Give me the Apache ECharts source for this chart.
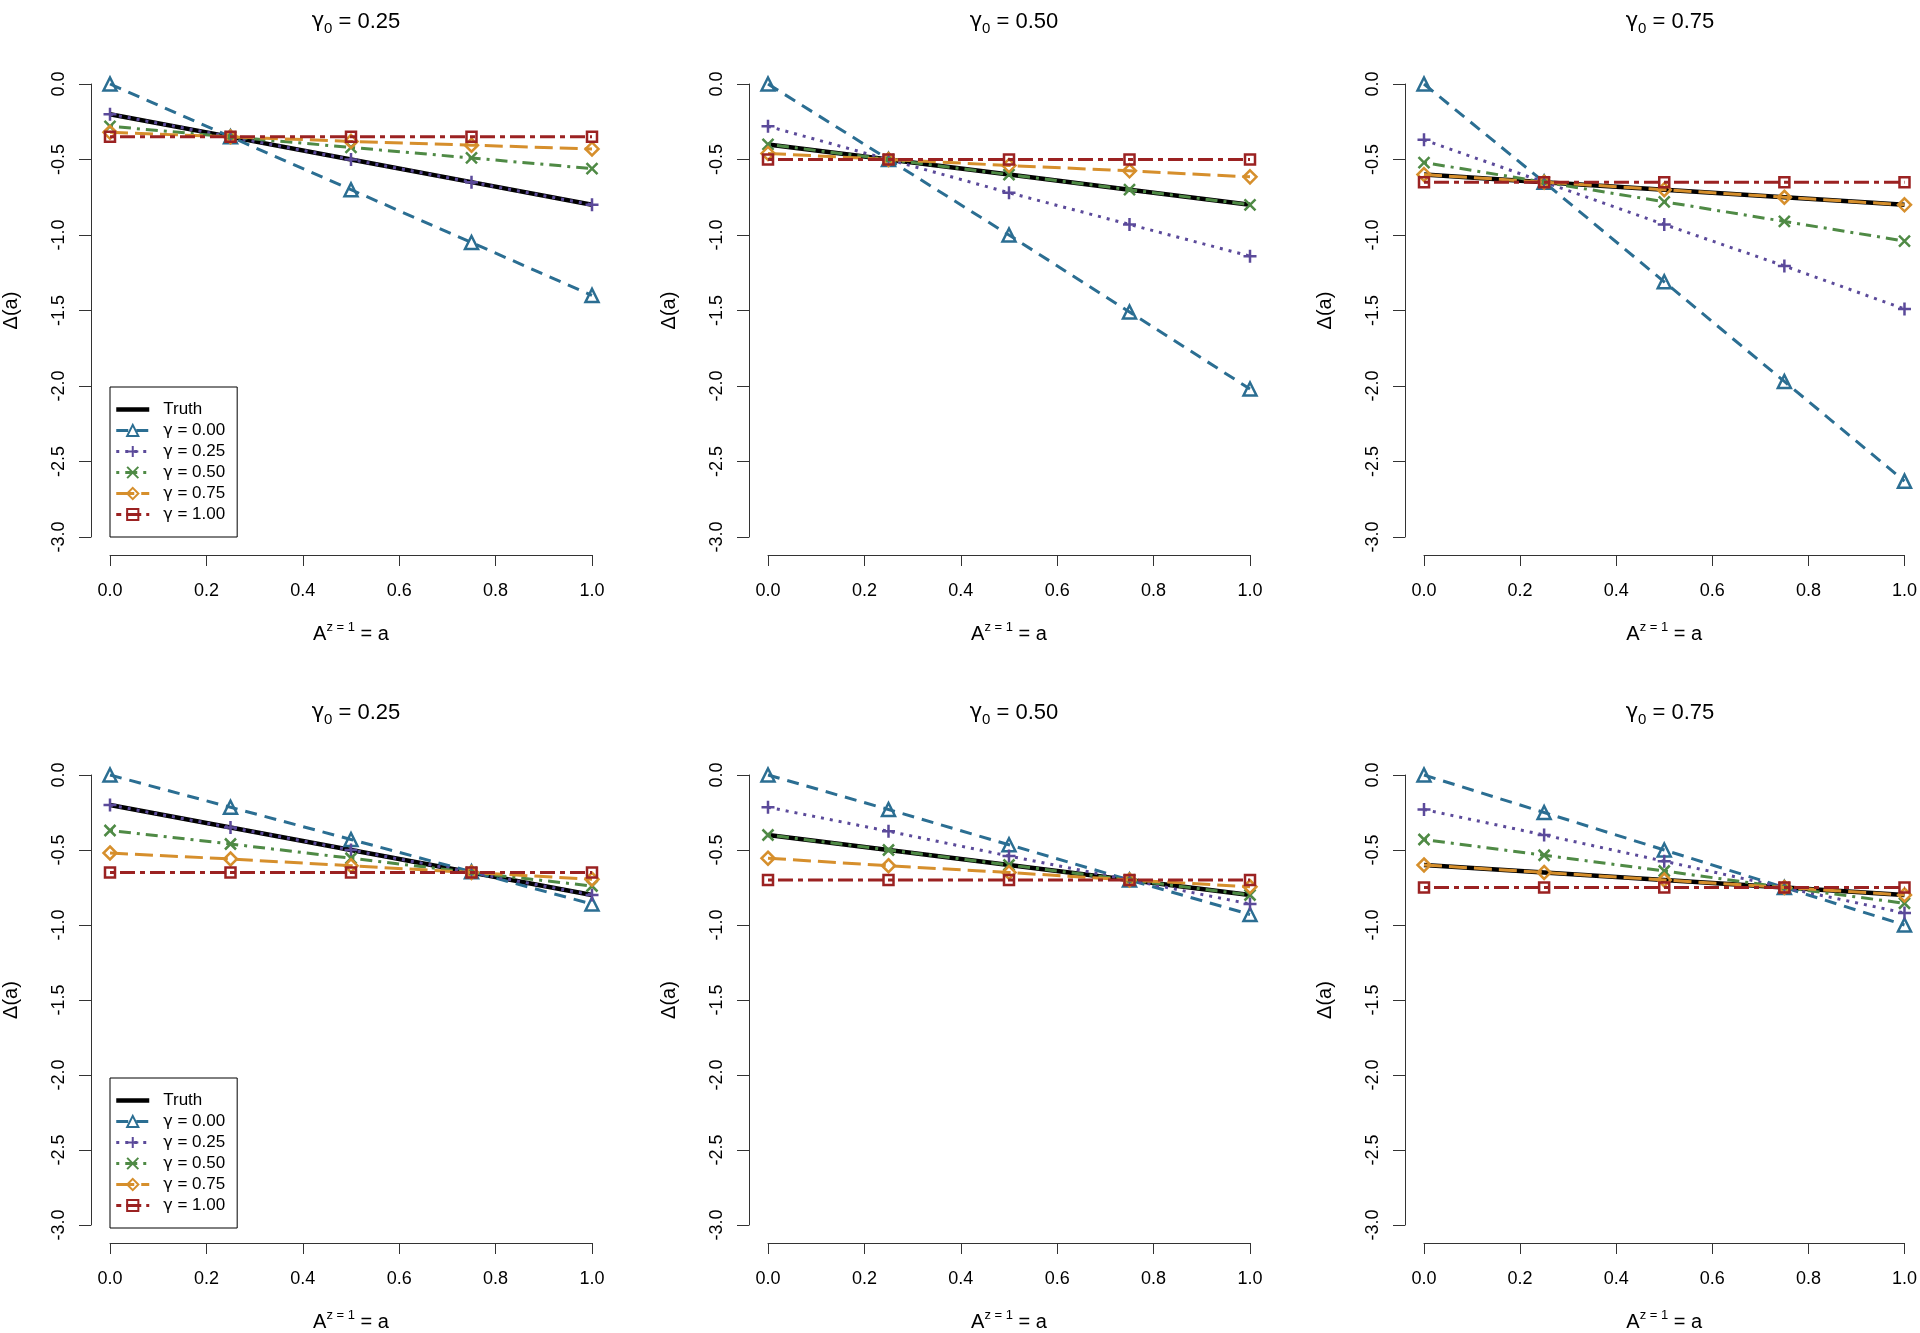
<!DOCTYPE html>
<html>
<head>
<meta charset="utf-8">
<title>Delta(a) by gamma</title>
<script src="https://cdn.jsdelivr.net/npm/echarts@6/dist/echarts.min.js"></script>
<style>
	html, body { margin: 0; padding: 0; background: #fff; }
	#chart { width: 1920px; height: 1333px; }
</style>
</head>
<body>
<div id="chart"></div>
<script>
// x positions, A^{z=1} = a
const aValues = [0, 0.25, 0.5, 0.75, 1]
const xTicks = [0, 0.2, 0.4, 0.6, 0.8, 1]
const yTicks = [0, -0.5, -1, -1.5, -2, -2.5, -3]
const seriesNames = ["Truth", "γ = 0.00", "γ = 0.25", "γ = 0.50", "γ = 0.75", "γ = 1.00"]
const panelGamma0 = ["0.25", "0.50", "0.75", "0.25", "0.50", "0.75"]

// top row, gamma0 = 0.25
const p1Truth = [-0.2, -0.35, -0.5, -0.65, -0.8]
const p1G000 = [0, -0.35, -0.7, -1.05, -1.4]
const p1G025 = [-0.2, -0.35, -0.5, -0.65, -0.8]
const p1G050 = [-0.28, -0.35, -0.42, -0.49, -0.56]
const p1G075 = [-0.32, -0.35, -0.38, -0.405, -0.43]
const p1G100 = [-0.35, -0.35, -0.35, -0.35, -0.35]
// top row, gamma0 = 0.50
const p2Truth = [-0.4, -0.5, -0.6, -0.7, -0.8]
const p2G000 = [0, -0.5, -1.0, -1.51, -2.02]
const p2G025 = [-0.28, -0.5, -0.72, -0.93, -1.14]
const p2G050 = [-0.4, -0.5, -0.6, -0.7, -0.8]
const p2G075 = [-0.46, -0.5, -0.54, -0.575, -0.615]
const p2G100 = [-0.5, -0.5, -0.5, -0.5, -0.5]
// top row, gamma0 = 0.75
const p3Truth = [-0.6, -0.65, -0.7, -0.75, -0.8]
const p3G000 = [0, -0.65, -1.31, -1.97, -2.63]
const p3G025 = [-0.37, -0.65, -0.93, -1.205, -1.49]
const p3G050 = [-0.52, -0.65, -0.78, -0.91, -1.04]
const p3G075 = [-0.6, -0.65, -0.7, -0.75, -0.8]
const p3G100 = [-0.65, -0.65, -0.65, -0.65, -0.65]
// bottom row, gamma0 = 0.25
const p4Truth = [-0.2, -0.35, -0.5, -0.65, -0.8]
const p4G000 = [0, -0.215, -0.43, -0.645, -0.86]
const p4G025 = [-0.2, -0.35, -0.5, -0.65, -0.8]
const p4G050 = [-0.37, -0.46, -0.555, -0.65, -0.74]
const p4G075 = [-0.52, -0.56, -0.605, -0.65, -0.695]
const p4G100 = [-0.65, -0.65, -0.65, -0.65, -0.65]
// bottom row, gamma0 = 0.50
const p5Truth = [-0.4, -0.5, -0.6, -0.7, -0.8]
const p5G000 = [0, -0.23, -0.465, -0.7, -0.93]
const p5G025 = [-0.215, -0.375, -0.54, -0.7, -0.86]
const p5G050 = [-0.4, -0.5, -0.6, -0.7, -0.8]
const p5G075 = [-0.555, -0.605, -0.65, -0.7, -0.745]
const p5G100 = [-0.7, -0.7, -0.7, -0.7, -0.7]
// bottom row, gamma0 = 0.75
const p6Truth = [-0.6, -0.65, -0.7, -0.75, -0.8]
const p6G000 = [0, -0.25, -0.5, -0.75, -1.0]
const p6G025 = [-0.23, -0.4, -0.575, -0.75, -0.92]
const p6G050 = [-0.43, -0.535, -0.64, -0.75, -0.855]
const p6G075 = [-0.6, -0.65, -0.7, -0.75, -0.8]
const p6G100 = [-0.75, -0.75, -0.75, -0.75, -0.75]

const panels = [
	[p1Truth, p1G000, p1G025, p1G050, p1G075, p1G100],
	[p2Truth, p2G000, p2G025, p2G050, p2G075, p2G100],
	[p3Truth, p3G000, p3G025, p3G050, p3G075, p3G100],
	[p4Truth, p4G000, p4G025, p4G050, p4G075, p4G100],
	[p5Truth, p5G000, p5G025, p5G050, p5G075, p5G100],
	[p6Truth, p6G000, p6G025, p6G050, p6G075, p6G100]
]

const FONT = "Liberation Sans, Arial, Helvetica, sans-serif"
const GREEK = "DejaVu Sans, Liberation Sans, sans-serif"
const PLUS = "path://M0,-10L0,10M-10,0L10,0"
const CROSS = "path://M-10,-10L10,10M-10,10L10,-10"
const looks = [
	{ color: "#000000", width: 4.5, type: "solid", symbol: "none", size: 0 },
	{ color: "#2b6e92", width: 3, type: [12, 8], symbol: "triangle", size: 13 },
	{ color: "#5b4a9a", width: 3, type: [3, 6], symbol: PLUS, size: 13 },
	{ color: "#4f8a45", width: 3, type: [3, 6, 12, 6], symbol: CROSS, size: 11 },
	{ color: "#d68f2c", width: 3, type: [18, 7], symbol: "diamond", size: 13 },
	{ color: "#9b2222", width: 3, type: [5, 5, 15, 5], symbol: "rect", size: 10 }
]

const colX = [110, 768, 1424]
const rowY = [84, 775]
const plotW = 482
const plotH = 453
const axisColor = "#333"

let grid = [], xAxis = [], yAxis = [], title = [], series = [], legend = []

panels.forEach((lines, p) => {
	const left = colX[p % 3]
	const top = rowY[Math.floor(p / 3)]
	grid.push({ left: left, top: top, width: plotW, height: plotH, containLabel: false })

	title.push({
		text: "{y|γ}{s|0}{g| = " + panelGamma0[p] + "}",
		left: left + plotW / 2,
		top: top - 81,
		textAlign: "center",
		textStyle: {
			fontWeight: "normal",
			rich: {
				y: { fontSize: 21, fontFamily: GREEK, fontWeight: "normal", color: "#000", lineHeight: 28 },
				g: { fontSize: 22, fontFamily: FONT, fontWeight: "normal", color: "#000", lineHeight: 28 },
				s: { fontSize: 15, fontFamily: FONT, fontWeight: "normal", color: "#000", lineHeight: 14, verticalAlign: "bottom" }
			}
		}
	})

	xAxis.push({
		type: "value",
		gridIndex: p,
		min: xTicks[0],
		max: xTicks[xTicks.length - 1],
		interval: 0.2,
		offset: 18,
		axisLine: { onZero: false, lineStyle: { color: axisColor, width: 1 } },
		axisTick: { length: 11, lineStyle: { color: axisColor, width: 1 } },
		axisLabel: {
			margin: 27,
			fontSize: 18,
			fontFamily: FONT,
			color: "#000",
			formatter: v => v.toFixed(1)
		},
		splitLine: { show: false },
		name: "{a|A}{z|z = 1}{a| = a}",
		nameLocation: "middle",
		nameGap: 66,
		nameTextStyle: {
			rich: {
				a: { fontSize: 20, fontFamily: FONT, color: "#000", lineHeight: 26 },
				z: { fontSize: 13, fontFamily: FONT, color: "#000", lineHeight: 13, verticalAlign: "top" }
			}
		}
	})

	yAxis.push({
		type: "value",
		gridIndex: p,
		min: yTicks[yTicks.length - 1],
		max: yTicks[0],
		interval: 0.5,
		offset: 19,
		axisLine: { show: true, onZero: false, lineStyle: { color: axisColor, width: 1 } },
		axisTick: { show: true, length: 12, lineStyle: { color: axisColor, width: 1 } },
		axisLabel: {
			rotate: 90,
			margin: 23,
			fontSize: 18,
			fontFamily: FONT,
			color: "#000",
			formatter: v => v.toFixed(1)
		},
		splitLine: { show: false },
		name: "Δ(a)",
		nameLocation: "middle",
		nameGap: 70,
		nameTextStyle: { fontSize: 20, fontFamily: FONT, color: "#000" }
	})

	lines.forEach((vals, k) => {
		const lk = looks[k]
		series.push({
			type: "line",
			name: seriesNames[k],
			xAxisIndex: p,
			yAxisIndex: p,
			data: aValues.map((a, i) => [a, vals[i]]),
			symbol: lk.symbol,
			symbolSize: lk.size,
			showSymbol: lk.symbol !== "none",
			clip: false,
			silent: true,
			animation: false,
			z: 2 + k,
			lineStyle: { color: lk.color, width: lk.width, type: lk.type },
			itemStyle: {
				color: "rgba(0,0,0,0)",
				borderColor: lk.color,
				borderWidth: k === 0 ? 0 : 2.5
			},
			emphasis: { disabled: true }
		})
	})
})

// legends only on the left-hand panels
rowY.forEach(top => {
	legend.push({
		data: seriesNames,
		orient: "vertical",
		left: 110,
		top: top + 303,
		itemWidth: 33,
		itemHeight: 14,
		itemGap: 4,
		padding: [14, 12, 14, 4],
		borderColor: "#000",
		borderWidth: 1,
		backgroundColor: "#fff",
		selectedMode: false,
		lineStyle: { width: "inherit" },
		formatter: name => name.startsWith("γ") ? "{y|γ}{t|" + name.slice(1) + "}" : "{t|" + name + "}",
		textStyle: {
			fontSize: 17,
			fontFamily: FONT,
			color: "#000",
			padding: [0, 0, 0, 9],
			rich: {
				y: { fontSize: 16, fontFamily: GREEK, color: "#000" },
				t: { fontSize: 17, fontFamily: FONT, color: "#000" }
			}
		}
	})
})

const chart = echarts.init(document.getElementById("chart"))
chart.setOption({
	backgroundColor: "#fff",
	animation: false,
	title,
	grid,
	xAxis,
	yAxis,
	legend,
	series
})
window.addEventListener("resize", () => chart.resize())
</script>
</body>
</html>
